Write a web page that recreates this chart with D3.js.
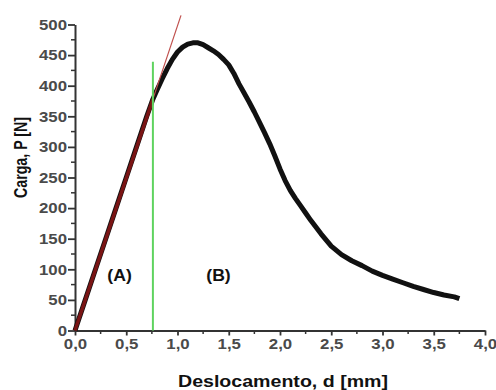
<!DOCTYPE html>
<html>
<head>
<meta charset="utf-8">
<script src="https://cdn.jsdelivr.net/npm/d3@7"></script>
<style>
  body { margin: 0; background: #fff; }
  svg { font-family: "Liberation Sans", Arial, sans-serif; }
</style>
</head>
<body>
<div id="chart"></div>
<script>
// load-displacement curve
const dispMm = [0, 0.1, 0.2, 0.3, 0.4, 0.5, 0.6, 0.7, 0.76, 0.8, 0.85, 0.9, 0.95, 1.0, 1.05, 1.1, 1.15, 1.2,
  1.25, 1.3, 1.35, 1.4, 1.45, 1.5, 1.55, 1.6, 1.65, 1.7, 1.75, 1.8, 1.85, 1.9, 1.95, 2.0, 2.05, 2.1, 2.15,
  2.2, 2.25, 2.3, 2.4, 2.5, 2.6, 2.7, 2.8, 2.9, 3.0, 3.1, 3.2, 3.3, 3.4, 3.5, 3.6, 3.7, 3.75];
const loadN = [0, 50, 100, 150, 200, 250, 300, 350, 378, 393, 411, 428, 443, 455, 463, 468, 470, 470,
  467, 462, 457, 451, 443, 434, 420, 403, 388, 373, 357, 340, 323, 305, 285, 264, 245, 229, 216,
  204, 192, 180, 158, 138, 124, 114, 106, 97, 90, 84, 78, 72, 67, 62, 58, 55, 52];

// elastic fit line and region split
const fitLine = [[0, 0], [0.76, 378], [1.034, 515]];
const splitX = 0.76;
const splitTop = 439;
const regionLabels = [{ text: "(A)", x: 0.435, y: 90 }, { text: "(B)", x: 1.4, y: 90 }];

const xTicks = [0, 0.5, 1, 1.5, 2, 2.5, 3, 3.5, 4];
const yTicks = [0, 50, 100, 150, 200, 250, 300, 350, 400, 450, 500];

const width = 496, height = 390;
const x = d3.scaleLinear().domain([0, 4]).range([75, 485]);
const y = d3.scaleLinear().domain([0, 500]).range([330.5, 24.5]);

const svg = d3.select("#chart").append("svg")
  .attr("width", width)
  .attr("height", height);

const fmt = d => d3.format(".1f")(d).replace(".", ",");

// the source picture is a bit stretched sideways, so widen text to match
function stretch(sel, k) {
  sel.each(function() {
    const len = this.getComputedTextLength();
    d3.select(this).attr("textLength", len * k).attr("lengthAdjust", "spacingAndGlyphs");
  });
}

// minor ticks first, then the axes
const xMinor = d3.range(0.25, 4, 0.5);
const yMinor = d3.range(25, 500, 50);

svg.append("g")
  .attr("transform", "translate(0,330.5)")
  .selectAll("line").data(xMinor).enter().append("line")
  .attr("x1", d => x(d)).attr("x2", d => x(d))
  .attr("y1", 0).attr("y2", 3.5)
  .attr("stroke", "#333").attr("stroke-width", 1.5);

svg.append("g")
  .attr("transform", "translate(75,0)")
  .selectAll("line").data(yMinor).enter().append("line")
  .attr("y1", d => y(d)).attr("y2", d => y(d))
  .attr("x1", 0).attr("x2", -4)
  .attr("stroke", "#333").attr("stroke-width", 1.5);

const xAxis = svg.append("g")
  .attr("transform", "translate(0,330.5)")
  .call(d3.axisBottom(x).tickValues(xTicks).tickFormat(fmt).tickSizeInner(5).tickSizeOuter(0).tickPadding(3));

const yAxis = svg.append("g")
  .attr("transform", "translate(75,0)")
  .call(d3.axisLeft(y).tickValues(yTicks).tickFormat(d3.format("d")).tickSizeInner(7).tickSizeOuter(0).tickPadding(1));

[xAxis, yAxis].forEach(g => {
  g.select(".domain").attr("stroke", "#333").attr("stroke-width", 2);
  g.selectAll(".tick line").attr("stroke", "#333").attr("stroke-width", 1.8);
  g.selectAll("text")
    .attr("fill", "#4a4a4a")
    .style("font-size", "15px")
    .style("font-weight", "bold")
    .call(stretch, 1.12);
});

// the measured curve
const pts = dispMm.map((d, i) => [d, loadN[i]]);
svg.append("path")
  .datum(pts)
  .attr("fill", "none")
  .attr("stroke", "#111")
  .attr("stroke-width", 5)
  .attr("stroke-linejoin", "round")
  .attr("d", d3.line().x(d => x(d[0])).y(d => y(d[1])));

// elastic fit line: heavy where it sits on the curve, thin beyond
svg.append("line")
  .attr("x1", x(fitLine[0][0])).attr("y1", y(fitLine[0][1]))
  .attr("x2", x(fitLine[1][0])).attr("y2", y(fitLine[1][1]))
  .attr("stroke", "#7a1414").attr("stroke-width", 3.5);

svg.append("line")
  .attr("x1", x(fitLine[1][0])).attr("y1", y(fitLine[1][1]))
  .attr("x2", x(fitLine[2][0])).attr("y2", y(fitLine[2][1]))
  .attr("stroke", "#c0504d").attr("stroke-width", 1.2);

// split line between regions
svg.append("line")
  .attr("x1", x(splitX)).attr("x2", x(splitX))
  .attr("y1", y(0)).attr("y2", y(splitTop))
  .attr("stroke", "#5fd35f").attr("stroke-width", 2);

svg.selectAll(".region").data(regionLabels).enter().append("text")
  .attr("class", "region")
  .attr("x", d => x(d.x)).attr("y", d => y(d.y))
  .attr("text-anchor", "middle")
  .attr("dy", "0.35em")
  .style("font-size", "16px")
  .style("font-weight", "bold")
  .attr("fill", "#111")
  .text(d => d.text)
  .call(stretch, 1.1);

svg.append("text")
  .attr("x", 283).attr("y", 387)
  .attr("text-anchor", "middle")
  .attr("textLength", 210).attr("lengthAdjust", "spacingAndGlyphs")
  .style("font-size", "16px")
  .style("font-weight", "bold")
  .attr("fill", "#111")
  .text("Deslocamento, d [mm]");

svg.append("text")
  .attr("transform", "translate(27,157.5) rotate(-90) scale(1,1.12)")
  .attr("text-anchor", "middle")
  .attr("textLength", 81).attr("lengthAdjust", "spacingAndGlyphs")
  .style("font-size", "16px")
  .style("font-weight", "bold")
  .attr("fill", "#111")
  .text("Carga, P [N]");
</script>
</body>
</html>
